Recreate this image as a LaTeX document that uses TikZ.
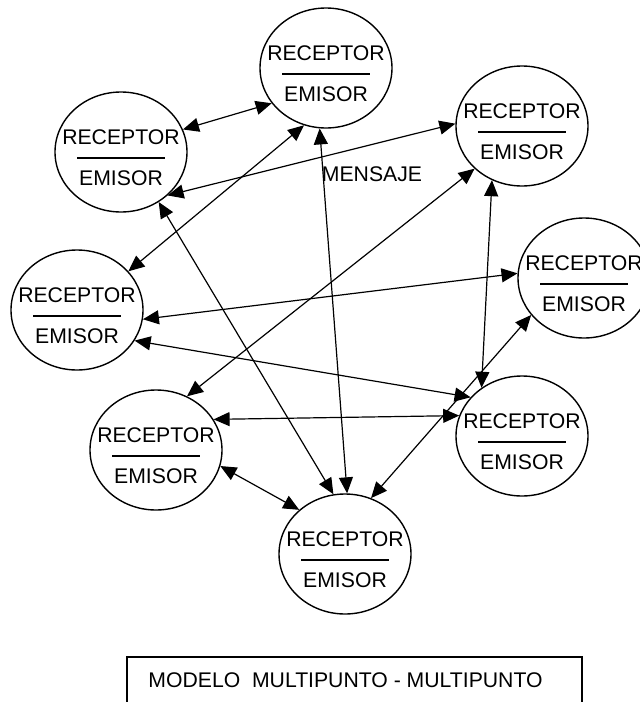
\documentclass[tikz,border=0pt]{standalone}
\usepackage{fontspec}
\setmainfont{Liberation Sans}
\usetikzlibrary{arrows.meta, shapes.geometric}
\tikzset{
    nodo/.style={ellipse, draw, line width=0.7pt, minimum width=66pt, minimum height=60pt, inner sep=0pt}, % estacion receptor/emisor
    flecha/.style={{Triangle[length=8pt,width=7pt]}-{Triangle[length=8pt,width=7pt]}, line width=0.6pt}, % mensaje en ambos sentidos
    texto/.style={font=\fontsize{10.6}{12}\selectfont, inner sep=0pt} % rotulos
}

\begin{document}
\begin{tikzpicture}[x=0.5pt, y=-0.5pt]
    \useasboundingbox (0,0) rectangle (640,702);
    \clip (0,0) rectangle (640,702);

    \foreach \n/\x/\y in {e1/326/68, e2/121/152, e3/522/126, e4/77/310, e5/584/278, e6/522/436, e7/156/450, e8/345/554} {
        \node[nodo] (\n) at (\x,\y) {};
        \node[texto] (\n-r) at (\x,\y-15) {RECEPTOR};
        \draw[line width=1pt] (\x-44,\y+6) -- (\x+44,\y+6);
        \node[texto] (\n-e) at (\x,\y+26) {EMISOR};
    }

    \foreach \a/\b in {e2.20/e1.213, e2.317/e3.178, e4.37/e1.249, e1.264/e8.88, e2.307/e8.101, e3.222/e7.60,
                       e3.241/e6.130, e4.352/e5.176, e4.332/e6.143, e7.28/e6.162, e5.215/e8.65, e7.346/e8.136}
        \draw[flecha] (\a) -- (\b);

    \node[texto] (mensaje) at (372,174) {MENSAJE};

    \draw[line width=0.7pt] (127,657) rectangle (582,730);
    \node[texto, anchor=west] (titulo) at (148,680) {MODELO\ \ MULTIPUNTO - MULTIPUNTO};
\end{tikzpicture}
\end{document}
